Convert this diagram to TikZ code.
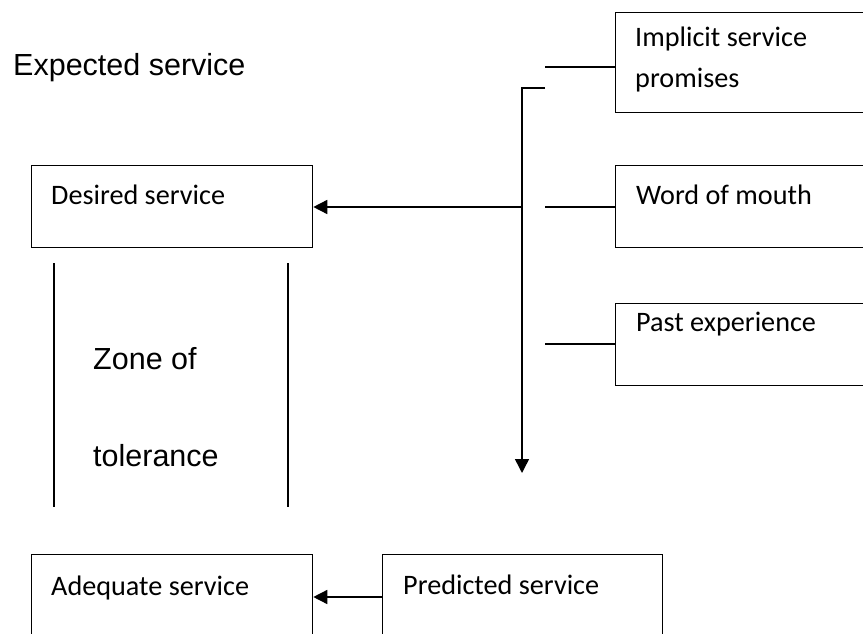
\documentclass[tikz,border=0pt]{standalone}
\usepackage{fontspec}
\setmainfont{Carlito}
\newfontfamily\arialfont{Liberation Sans}
\usetikzlibrary{arrows.meta}
\tikzset{
  box/.style={draw, line width=1.3pt, anchor=north west, inner sep=0pt},
  cal/.style={anchor=base west, inner sep=0pt, font=\fontsize{28.2}{33}\selectfont},
  ari/.style={anchor=base west, inner sep=0pt, font=\arialfont\fontsize{30.5}{36}\selectfont},
  conn/.style={line width=1.5pt},
  arr/.style={line width=1.5pt, -{Triangle[length=14pt,width=14pt]}},
}
\begin{document}
\begin{tikzpicture}[x=1pt,y=-1pt]
\useasboundingbox (0,0) rectangle (863,634);
% boxes
\node[box, minimum width=300pt, minimum height=100pt] (imp) at (615,12) {};
\node[box, minimum width=300pt, minimum height=82pt] (wom) at (615,165) {};
\node[box, minimum width=300pt, minimum height=82pt] (past) at (615,303) {};
\node[box, minimum width=281pt, minimum height=82pt] (des) at (31,165) {};
\node[box, minimum width=281pt, minimum height=130pt] (ade) at (31,554) {};
\node[box, minimum width=280pt, minimum height=130pt] (pred) at (382,554) {};
% texts
\node[ari] (exp) at (13,76) {Expected service};
\node[cal] (impt1) at (635,47) {Implicit service};
\node[cal] (impt2) at (635,88) {promises};
\node[cal] (womt) at (636,204) {Word of mouth};
\node[cal] (pastt) at (636,331) {Past experience};
\node[cal] (dest) at (51,204) {Desired service};
\node[cal] (adet) at (51,595) {Adequate service};
\node[cal] (predt) at (403,594) {Predicted service};
\node[ari] (zone1) at (93,369) {Zone of};
\node[ari] (zone2) at (93,466) {tolerance};
% zone lines
\coordinate (zl1) at (54,263); \coordinate (zl2) at (54,507);
\coordinate (zr1) at (288,263); \coordinate (zr2) at (288,507);
\draw[conn] (zl1) -- (zl2);
\draw[conn] (zr1) -- (zr2);
% stubs from right boxes
\coordinate (s1) at (545,67);
\coordinate (s2) at (545,207);
\coordinate (s3) at (545,344);
\draw[conn] (s1) -- (s1 -| imp.west);
\draw[conn] (s2) -- (s2 -| wom.west);
\draw[conn] (s3) -- (s3 -| past.west);
% bracket and down arrow
\coordinate (b1) at (545,88);
\coordinate (b2) at (522,473);
\draw[arr] (b1) -- (b1 -| b2) -- (b2);
% arrow to desired
\coordinate (j) at (522,207);
\draw[arr] (j) -- (j -| des.east);
% arrow predicted -> adequate
\coordinate (p1) at (382,597);
\draw[arr] (p1) -- (p1 -| ade.east);
\end{tikzpicture}
\end{document}
